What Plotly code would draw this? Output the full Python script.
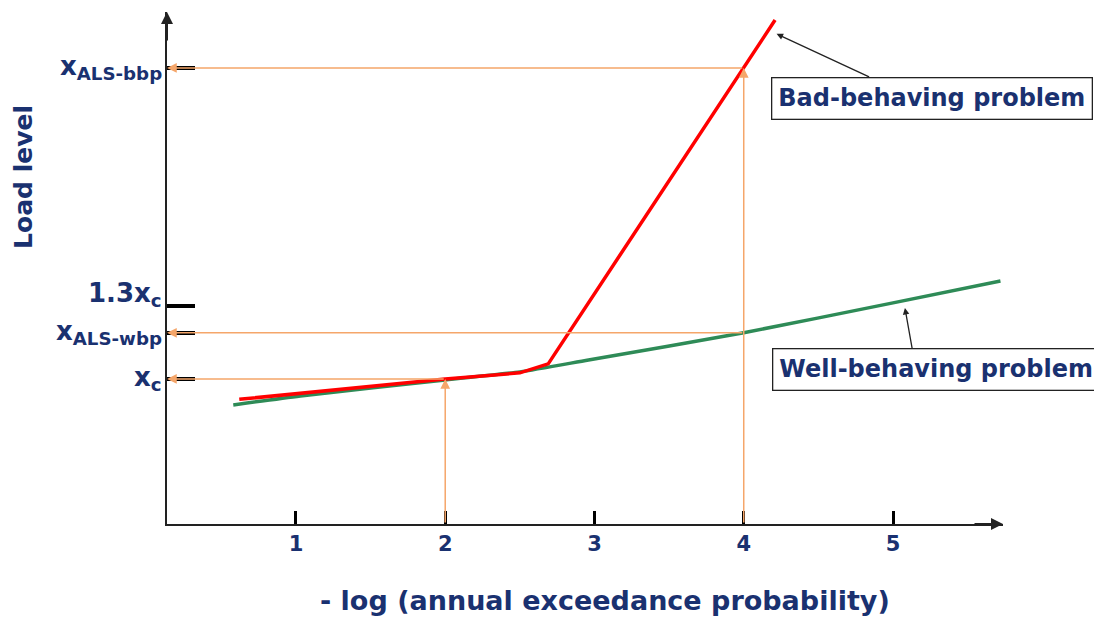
"""Schematic: load level vs. -log(annual exceedance probability)."""

import plotly.graph_objects as go

NAVY = "#1a3170"
ORANGE = "#f5a66a"
FONT = "DejaVu Sans"

# x ticks on the probability axis
x_ticks = [1, 2, 3, 4, 5]

# load levels marked on the y axis
x_c = 1.0
x_als_wbp = 1.19
x_13c = 1.3
x_als_bbp = 2.28
y_levels = [x_c, x_als_wbp, x_13c, x_als_bbp]
y_labels = ["x<sub>c</sub>", "x<sub>ALS-wbp</sub>", "1.3x<sub>c</sub>", "x<sub>ALS-bbp</sub>"]

# well-behaving problem curve
green_x = [0.58, 1.03, 2.0, 2.5, 2.96, 4.0, 5.0, 5.72]
green_y = [0.893, 0.93, 0.996, 1.029, 1.078, 1.19, 1.313, 1.403]

# bad-behaving problem curve
red_x = [0.62, 2.0, 2.5, 2.69, 4.21]
red_y = [0.916, 1.0, 1.025, 1.062, 2.477]

X_RANGE = [0.136, 5.737]
Y_RANGE = [0.403, 2.51]


def main() -> None:
    fig = go.Figure()

    fig.add_trace(go.Scatter(
        x=green_x, y=green_y, mode="lines",
        line=dict(color="#2e8b57", width=3.5, shape="spline", smoothing=0.6),
        hoverinfo="skip",
    ))
    fig.add_trace(go.Scatter(
        x=red_x, y=red_y, mode="lines",
        line=dict(color="#ff0000", width=3.5),
        hoverinfo="skip",
    ))

    x0, y0 = X_RANGE[0], Y_RANGE[0]
    annotations = []

    def guide(hx, hy, tx, ty):
        annotations.append(dict(
            x=hx, y=hy, ax=tx, ay=ty, xref="x", yref="y", axref="x", ayref="y",
            text="", showarrow=True, arrowhead=2, arrowsize=1.3, arrowwidth=1.5,
            arrowcolor=ORANGE,
        ))

    # vertical guides up to the curves, horizontal guides to the load axis
    guide(2, x_c, 2, y0)
    guide(x0, x_c, 2, x_c)
    guide(4, x_als_bbp, 4, y0)
    guide(x0, x_als_bbp, 4, x_als_bbp)
    guide(x0, x_als_wbp, 4, x_als_wbp)

    # axis arrowheads
    annotations.append(dict(x=1, y=0, xref="paper", yref="paper", ax=-30, ay=0,
                            text="", showarrow=True, arrowhead=2, arrowsize=1.2,
                            arrowwidth=2, arrowcolor="#222222"))
    annotations.append(dict(x=0, y=1, xref="paper", yref="paper", ax=0, ay=30,
                            text="", showarrow=True, arrowhead=2, arrowsize=1.2,
                            arrowwidth=2, arrowcolor="#222222"))

    # load level labels left of the axis (1.3x_c sits a little above its tick)
    label_font = dict(family=FONT, size=26, color=NAVY, weight="bold")
    for level, label in zip(y_levels, y_labels):
        annotations.append(dict(
            x=0, y=level, xref="paper", yref="y", xanchor="right", yanchor="middle",
            text=label, showarrow=False, font=label_font, xshift=-3,
            yshift=12 if level == x_13c else 0,
        ))

    # callout boxes
    box_font = dict(family=FONT, size=24, color=NAVY, weight="bold")
    annotations.append(dict(x=4.22, y=2.42, ax=4.85, ay=2.24, xref="x", yref="y",
                            axref="x", ayref="y", text="", showarrow=True,
                            arrowhead=2, arrowwidth=1.3, arrowcolor="#222222"))
    annotations.append(dict(x=5.262, y=2.153, xref="x", yref="y",
                            text="Bad-behaving problem", showarrow=False,
                            font=box_font, bordercolor="#222222", borderwidth=1.3,
                            borderpad=6, bgcolor="white"))
    annotations.append(dict(x=5.08, y=1.292, ax=5.13, ay=1.12, xref="x", yref="y",
                            axref="x", ayref="y", text="", showarrow=True,
                            arrowhead=2, arrowwidth=1.3, arrowcolor="#222222"))
    annotations.append(dict(x=5.29, y=1.037, xref="x", yref="y",
                            text="Well-behaving problem", showarrow=False,
                            font=box_font, bordercolor="#222222", borderwidth=1.3,
                            borderpad=6, bgcolor="white"))

    # axis titles
    title_font = dict(family=FONT, size=27, color=NAVY, weight="bold")
    annotations.append(dict(x=0.524, y=-0.149, xref="paper", yref="paper",
                            yanchor="middle", showarrow=False,
                            text="- log (annual exceedance probability)",
                            font=title_font))
    annotations.append(dict(x=-0.171, y=0.678, xref="paper", yref="paper",
                            xanchor="center", yanchor="middle", textangle=-90,
                            showarrow=False, text="Load level",
                            font=dict(family=FONT, size=25, color=NAVY, weight="bold")))

    # the page body adds an 8px offset, so the figure is drawn 8px smaller
    fig.update_layout(
        width=1094, height=609,
        margin=dict(l=159, r=99, t=4, b=93),
        plot_bgcolor="white", paper_bgcolor="white",
        showlegend=False,
        annotations=annotations,
        xaxis=dict(
            range=X_RANGE, tickvals=x_ticks, ticktext=[str(v) for v in x_ticks],
            showgrid=False, zeroline=False, showline=True, linecolor="#222222",
            linewidth=2, ticks="inside", ticklen=13, tickwidth=3, tickcolor="black",
            tickfont=dict(family=FONT, size=21, color=NAVY, weight="bold"),
            automargin=False,
        ),
        yaxis=dict(
            range=Y_RANGE, tickvals=y_levels, showticklabels=False,
            showgrid=False, zeroline=False, showline=True, linecolor="#222222",
            linewidth=2, ticks="inside", ticklen=28, tickwidth=4, tickcolor="black",
            automargin=False,
        ),
    )

    fig.write_html("out.html")


if __name__ == "__main__":
    main()
